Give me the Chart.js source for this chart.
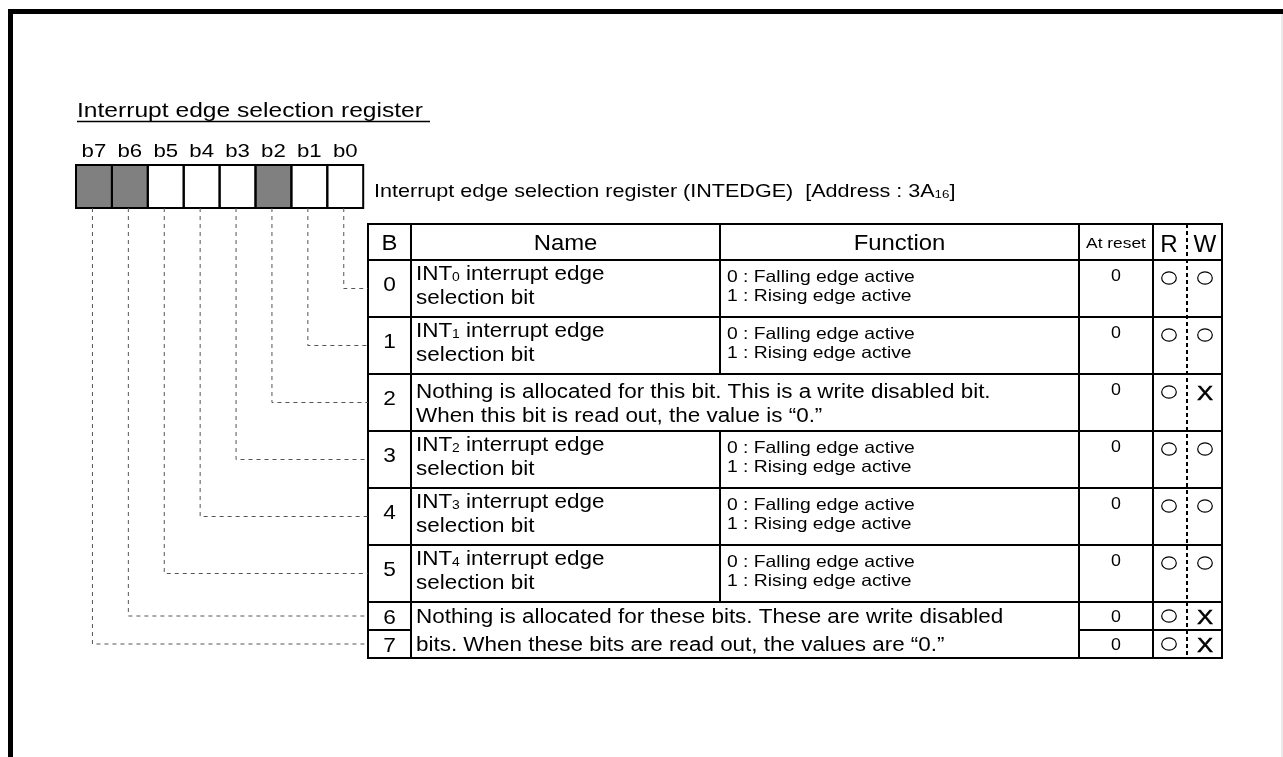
<!DOCTYPE html>
<html>
<head>
<meta charset="utf-8">
<script src="https://cdn.jsdelivr.net/npm/chart.js@4.4.1/dist/chart.umd.min.js"></script>
<style>
  html, body { margin: 0; padding: 0; background: #fff; }
  canvas { display: block; }
</style>
</head>
<body>
<canvas id="regChart" width="1283" height="757"></canvas>
<script>
// Register content
const chartTitle = 'Interrupt edge selection register ';
const registerCaption = 'Interrupt edge selection register (INTEDGE)  [Address : 3A{16}]';
const bitLabels = ['b7', 'b6', 'b5', 'b4', 'b3', 'b2', 'b1', 'b0'];
const bitShaded = [true, true, false, false, false, true, false, false];

const headerLabels = ['B', 'Name', 'Function', 'At reset', 'R', 'W'];
const rowBits = ['0', '1', '2', '3', '4', '5', '6', '7'];
const rowNames = [
    'INT{0} interrupt edge\nselection bit',
    'INT{1} interrupt edge\nselection bit',
    null,
    'INT{2} interrupt edge\nselection bit',
    'INT{3} interrupt edge\nselection bit',
    'INT{4} interrupt edge\nselection bit',
    null,
    null
];
const rowFunctions = [
    '0 : Falling edge active\n1 : Rising edge active',
    '0 : Falling edge active\n1 : Rising edge active',
    null,
    '0 : Falling edge active\n1 : Rising edge active',
    '0 : Falling edge active\n1 : Rising edge active',
    '0 : Falling edge active\n1 : Rising edge active',
    null,
    null
];
const noteRows = [[2, 2], [6, 7]];
const noteTexts = [
    'Nothing is allocated for this bit. This is a write disabled bit.\nWhen this bit is read out, the value is \u201c0.\u201d',
    'Nothing is allocated for these bits. These are write disabled\nbits. When these bits are read out, the values are \u201c0.\u201d'
];
const resetValues = ['0', '0', '0', '0', '0', '0', '0', '0'];
const readMarks = ['O', 'O', 'O', 'O', 'O', 'O', 'O', 'O'];
const writeMarks = ['O', 'O', 'X', 'O', 'O', 'O', 'X', 'X'];

// Layout (page units)
const W = 1283, H = 757;
const FONT = '"Liberation Sans", Arial, Helvetica, sans-serif';
const box = { left: 76, top: 165, w: 35.9, h: 43 };
const colEdges = [368, 411, 720, 1079, 1153, 1187, 1222];
const tableTop = 224, headerBottom = 260;
const rowHeights = [57, 57, 57, 57, 57, 57, 28, 28];

const rowTops = [];
rowHeights.reduce((y, h) => { rowTops.push(y); return y + h; }, headerBottom);
const tableBottom = rowTops[7] + rowHeights[7];
const rowMid = i => rowTops[i] + rowHeights[i] / 2;
const isShort = i => rowHeights[i] < 40;

// dashed leader lines, one per bit (b0 is the right-most box)
const leaderSets = rowBits.map((b, i) => {
    const vx = box.left + (7 - i) * box.w + box.w / 2 - 1.5;
    return {
        data: [
            { x: vx, y: box.top + box.h },
            { x: vx, y: rowMid(i) },
            { x: colEdges[0], y: rowMid(i) }
        ],
        showLine: true,
        borderColor: '#555',
        borderWidth: 1,
        borderDash: [4, 4],
        pointRadius: 0,
        fill: false
    };
});

function richText(ctx, str, x, y, size, align, sx) {
    const parts = str.split(/(\{[^}]*\})/).filter(p => p.length);
    const segs = parts.map(p => {
        const sub = p[0] === '{';
        const t = sub ? p.slice(1, -1) : p;
        const fs = sub ? size * 0.62 : size;
        ctx.font = fs + 'px ' + FONT;
        return { t, sub, fs, w: ctx.measureText(t).width };
    });
    const total = segs.reduce((s, g) => s + g.w, 0) * sx;
    let x0 = x;
    if (align === 'center') x0 = x - total / 2;
    if (align === 'right') x0 = x - total;
    ctx.save();
    ctx.translate(x0, y);
    ctx.scale(sx, 1);
    ctx.textAlign = 'left';
    ctx.textBaseline = 'alphabetic';
    let cx = 0;
    segs.forEach(g => {
        ctx.font = g.fs + 'px ' + FONT;
        ctx.fillText(g.t, cx, g.sub ? size * 0.06 : 0);
        cx += g.w;
    });
    ctx.restore();
    return total;
}

const diagramPlugin = {
    id: 'registerDiagram',
    beforeDatasetsDraw(chart) {
        const ctx = chart.ctx;
        const sx = chart.scales.x, sy = chart.scales.y;
        const X = v => sx.getPixelForValue(v);
        const Y = v => sy.getPixelForValue(v);
        ctx.save();
        ctx.fillStyle = '#000';

        // page frame
        ctx.fillRect(X(8), Y(9), X(13) - X(8), Y(H) - Y(9));
        ctx.fillRect(X(8), Y(9), X(W) - X(8), Y(14) - Y(9));
        ctx.fillStyle = '#d8d8d8';
        ctx.fillRect(X(W - 1.5), Y(14), 1, Y(H) - Y(14));
        ctx.fillStyle = '#000';

        // title
        richText(ctx, chartTitle, X(77), Y(117), 20.5, 'left', 1.2);
        ctx.lineWidth = 1.5;
        ctx.strokeStyle = '#000';
        ctx.beginPath();
        ctx.moveTo(X(77), Y(121.5));
        ctx.lineTo(X(430), Y(121.5));
        ctx.stroke();

        // bit labels + boxes
        bitLabels.forEach((lab, k) => {
            const l = box.left + k * box.w;
            richText(ctx, lab, X(l + box.w / 2), Y(156.5), 18.5, 'center', 1.2);
            ctx.fillStyle = bitShaded[k] ? '#808080' : '#fff';
            ctx.fillRect(X(l), Y(box.top), X(l + box.w) - X(l), Y(box.top + box.h) - Y(box.top));
            ctx.fillStyle = '#000';
        });
        ctx.lineWidth = 2;
        bitLabels.forEach((lab, k) => {
            const l = box.left + k * box.w;
            ctx.strokeRect(X(l), Y(box.top), X(l + box.w) - X(l), Y(box.top + box.h) - Y(box.top));
        });
        richText(ctx, registerCaption, X(374), Y(196.5), 18.5, 'left', 1.165);

        // header
        const cMid = c => (colEdges[c] + colEdges[c + 1]) / 2;
        headerLabels.forEach((h, c) => {
            if (c === 3) richText(ctx, h, X(cMid(c)), Y(247.5), 15.5, 'center', 1.12);
            else if (c >= 4) richText(ctx, h, X(cMid(c) + (c === 4 ? -1 : 0.5)), Y(251.5), 23, 'center', 1.05);
            else richText(ctx, h, X(cMid(c)), Y(250), 21.5, 'center', 1.11);
        });

        // rows
        rowBits.forEach((b, i) => {
            const top = rowTops[i];
            const short = isShort(i);
            const mid = rowMid(i);
            richText(ctx, b, X(cMid(0)), Y(short ? mid + 7.5 : top + 31), 21, 'center', 1.08);
            if (rowNames[i]) {
                rowNames[i].split('\n').forEach((ln, j) =>
                    richText(ctx, ln, X(416), Y(top + 20 + j * 23.5), 19.5, 'left', 1.15));
            }
            if (rowFunctions[i]) {
                rowFunctions[i].split('\n').forEach((ln, j) =>
                    richText(ctx, ln, X(727), Y(top + 21.5 + j * 19), 16.5, 'left', 1.17));
            }
            richText(ctx, resetValues[i], X(cMid(3)), Y(short ? mid + 6 : top + 21), 16.5, 'center', 1.08);

            const markY = short ? mid : top + 18;
            [[readMarks[i], cMid(4) - 1], [writeMarks[i], cMid(5) + 0.5]].forEach(([m, cx]) => {
                if (m === 'O') {
                    ctx.lineWidth = 1.2;
                    ctx.beginPath();
                    ctx.ellipse(X(cx), Y(markY), 7.3, 6.2, 0, 0, Math.PI * 2);
                    ctx.stroke();
                } else {
                    ctx.save();
                    ctx.lineWidth = 0.5;
                    ctx.strokeStyle = '#000';
                    ctx.font = '21px ' + FONT;
                    ctx.textAlign = 'center';
                    ctx.translate(X(cx), Y(markY + 7.5));
                    ctx.scale(1.15, 1);
                    ctx.fillText(m, 0, 0);
                    ctx.strokeText(m, 0, 0);
                    ctx.restore();
                }
            });
        });

        // notes spanning Name + Function
        noteRows.forEach(([r0, r1], n) => {
            const lines = noteTexts[n].split('\n');
            if (r1 > r0) {
                lines.forEach((ln, j) =>
                    richText(ctx, ln, X(416), Y(rowMid(r0 + j) + 7), 19.5, 'left', 1.15));
            } else {
                lines.forEach((ln, j) =>
                    richText(ctx, ln, X(416), Y(rowMid(r0) - 4.5 + j * 24), 19.5, 'left', 1.15));
            }
        });

        // grid lines
        ctx.strokeStyle = '#000';
        ctx.lineWidth = 2;
        const hline = (x0, x1, y) => { ctx.beginPath(); ctx.moveTo(X(x0), Y(y)); ctx.lineTo(X(x1), Y(y)); ctx.stroke(); };
        const vline = (x, y0, y1) => { ctx.beginPath(); ctx.moveTo(X(x), Y(y0)); ctx.lineTo(X(x), Y(y1)); ctx.stroke(); };
        ctx.strokeRect(X(colEdges[0]), Y(tableTop), X(colEdges[6]) - X(colEdges[0]), Y(tableBottom) - Y(tableTop));
        hline(colEdges[0], colEdges[6], headerBottom);
        rowTops.slice(1).forEach((y, i) => {
            const r = i + 1;
            // line between rows 6 and 7 only in B / reset / R / W columns
            if (r === 7) {
                hline(colEdges[0], colEdges[1], y);
                hline(colEdges[3], colEdges[6], y);
            } else {
                hline(colEdges[0], colEdges[6], y);
            }
        });
        vline(colEdges[1], tableTop, tableBottom);
        vline(colEdges[3], tableTop, tableBottom);
        vline(colEdges[4], tableTop, tableBottom);
        // Name | Function divider skipped where a note spans both
        rowTops.forEach((y, i) => {
            const spanned = noteRows.some(([a, b]) => i >= a && i <= b);
            if (!spanned) vline(colEdges[2], y, y + rowHeights[i]);
        });
        vline(colEdges[2], tableTop, headerBottom);
        // R / W dotted divider
        ctx.setLineDash([4, 3]);
        vline(colEdges[5], tableTop, tableBottom);
        ctx.setLineDash([]);

        ctx.restore();
    }
};

new Chart(document.getElementById('regChart').getContext('2d'), {
    type: 'scatter',
    data: { datasets: leaderSets },
    options: {
        responsive: false,
        animation: false,
        devicePixelRatio: 1,
        events: [],
        layout: { padding: 0 },
        plugins: { legend: { display: false }, tooltip: { enabled: false } },
        scales: {
            x: { type: 'linear', min: 0, max: W, display: false },
            y: { type: 'linear', min: 0, max: H, reverse: true, display: false }
        }
    },
    plugins: [diagramPlugin]
});
</script>
</body>
</html>
